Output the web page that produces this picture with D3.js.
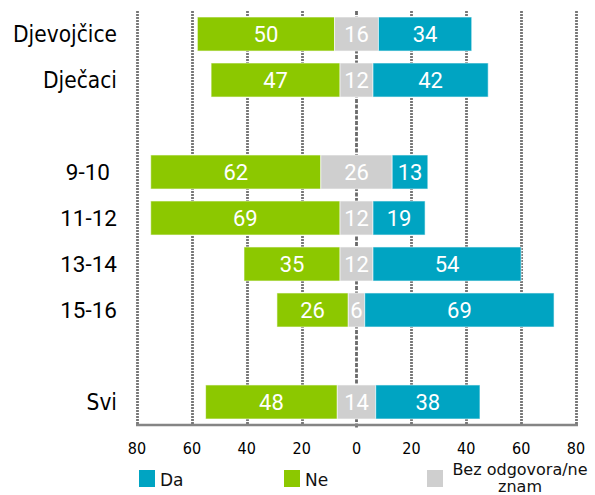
<!DOCTYPE html>
<html>
<head>
<meta charset="utf-8">
<script src="https://cdn.jsdelivr.net/npm/d3@7"></script>
<style>
  body { margin: 0; background: #fff; }
  svg { display: block; }
</style>
</head>
<body>
<svg id="chart"></svg>
<script>
// categories (blank keys are gaps between groups)
var categories = ["Djevojčice", "Dječaci", "gap1", "9-10", "11-12", "13-14", "15-16", "gap2", "Svi"];
var rows = ["Djevojčice", "Dječaci", "9-10", "11-12", "13-14", "15-16", "Svi"];
var da  = [34, 42, 13, 19, 54, 69, 38];
var ne  = [50, 47, 62, 69, 35, 26, 48];
var bez = [16, 12, 26, 12, 12, 6, 14];
var xTicks = [-80, -60, -40, -20, 0, 20, 40, 60, 80];
var ageRows = ["9-10", "11-12", "13-14", "15-16"];

var colors = { da: "#00a4c2", ne: "#8cc800", bez: "#cfcfcf" };

var W = 595, H = 495;
var svg = d3.select("#chart").attr("width", W).attr("height", H);

var x = d3.scaleLinear().domain([-80, 80]).range([137, 576]);
var y = d3.scaleBand().domain(categories).range([17, 419]).paddingInner(0.26).paddingOuter(0);

var gridTop = 11, gridBottom = 425;

// gridlines
svg.append("g")
    .selectAll("line")
    .data(xTicks.filter(function (d) { return d !== 0; }))
    .enter()
    .append("line")
    .attr("x1", function (d) { return Math.round(x(d)) + 0.5; })
    .attr("x2", function (d) { return Math.round(x(d)) + 0.5; })
    .attr("y1", gridTop)
    .attr("y2", gridBottom)
    .style("stroke", "#767676")
    .style("stroke-width", 2.8)
    .style("stroke-dasharray", "2,1");

// center line
svg.append("line")
    .attr("x1", x(0)).attr("x2", x(0))
    .attr("y1", gridTop).attr("y2", gridBottom + 3)
    .style("stroke", "#6a6a6a")
    .style("stroke-width", 2.8)
    .style("stroke-dasharray", "4,1.5");

// axis line
svg.append("line")
    .attr("x1", x(-80) - 1).attr("x2", x(80) + 2)
    .attr("y1", gridBottom).attr("y2", gridBottom)
    .style("stroke", "#858585")
    .style("stroke-width", 2.4);

// build segments
var segs = [];
rows.forEach(function (r, i) {
    var h = bez[i] / 2;
    segs.push({ cat: r, key: "ne", v: ne[i], x0: -h - ne[i], x1: -h });
    segs.push({ cat: r, key: "bez", v: bez[i], x0: -h, x1: h });
    segs.push({ cat: r, key: "da", v: da[i], x0: h, x1: h + da[i] });
});

svg.append("g")
    .selectAll("rect")
    .data(segs)
    .enter()
    .append("rect")
    .attr("x", function (d) { return x(d.x0); })
    .attr("y", function (d) { return y(d.cat); })
    .attr("width", function (d) { return x(d.x1) - x(d.x0); })
    .attr("height", y.bandwidth())
    .style("fill", function (d) { return colors[d.key]; })
    .style("stroke", "rgba(255,255,255,0.6)")
    .style("stroke-width", 1);

svg.append("g")
    .selectAll("text")
    .data(segs)
    .enter()
    .append("text")
    .attr("x", function (d) { return x((d.x0 + d.x1) / 2); })
    .attr("y", function (d) { return y(d.cat) + y.bandwidth() / 2; })
    .attr("dy", "0.36em")
    .style("text-anchor", "middle")
    .style("font-family", "Roboto, sans-serif")
    .style("font-size", "22px")
    .style("fill", "#fff")
    .text(function (d) { return d.v; });

// category labels
svg.append("g")
    .selectAll("text")
    .data(rows)
    .enter()
    .append("text")
    .attr("x", function (d) { return d === "9-10" ? 110 : 117; })
    .attr("y", function (d) { return y(d) + y.bandwidth() / 2; })
    .attr("dy", "0.36em")
    .style("text-anchor", "end")
    .style("font-family", function (d) {
        return ageRows.indexOf(d) >= 0 ? "Roboto, sans-serif" : "'DejaVu Sans Condensed', 'DejaVu Sans', sans-serif";
    })
    .style("font-size", "22.5px")
    .style("fill", "#000")
    .text(function (d) { return d; });

// tick labels
svg.append("g")
    .selectAll("text")
    .data(xTicks)
    .enter()
    .append("text")
    .attr("x", function (d) { return x(d); })
    .attr("y", 454)
    .style("text-anchor", "middle")
    .style("font-family", "'DejaVu Sans Condensed', 'DejaVu Sans', sans-serif")
    .style("font-size", "16px")
    .style("fill", "#000")
    .text(function (d) { return Math.abs(d); });

// legend
var legend = [
    { key: "da", label: ["Da"], x: 139 },
    { key: "ne", label: ["Ne"], x: 284 },
    { key: "bez", label: ["Bez odgovora/ne", "znam"], x: 427 }
];
var lg = svg.append("g")
    .selectAll("g")
    .data(legend)
    .enter()
    .append("g");
lg.append("rect")
    .attr("x", function (d) { return d.x; })
    .attr("y", 470)
    .attr("width", 16)
    .attr("height", 17)
    .style("fill", function (d) { return colors[d.key]; });
lg.each(function (d) {
    var g = d3.select(this);
    if (d.label.length === 1) {
        g.append("text")
            .attr("x", d.x + 21)
            .attr("y", 486)
            .style("font-family", "'DejaVu Sans', sans-serif")
            .style("font-size", "17px")
            .style("fill", "#111")
            .text(d.label[0]);
    } else {
        var t = g.append("text")
            .style("text-anchor", "middle")
            .style("font-family", "'DejaVu Sans', sans-serif")
            .style("font-size", "16px")
            .style("fill", "#111");
        t.append("tspan").attr("x", 520).attr("y", 475).text(d.label[0]);
        t.append("tspan").attr("x", 520).attr("y", 492).text(d.label[1]);
    }
});
</script>
</body>
</html>
